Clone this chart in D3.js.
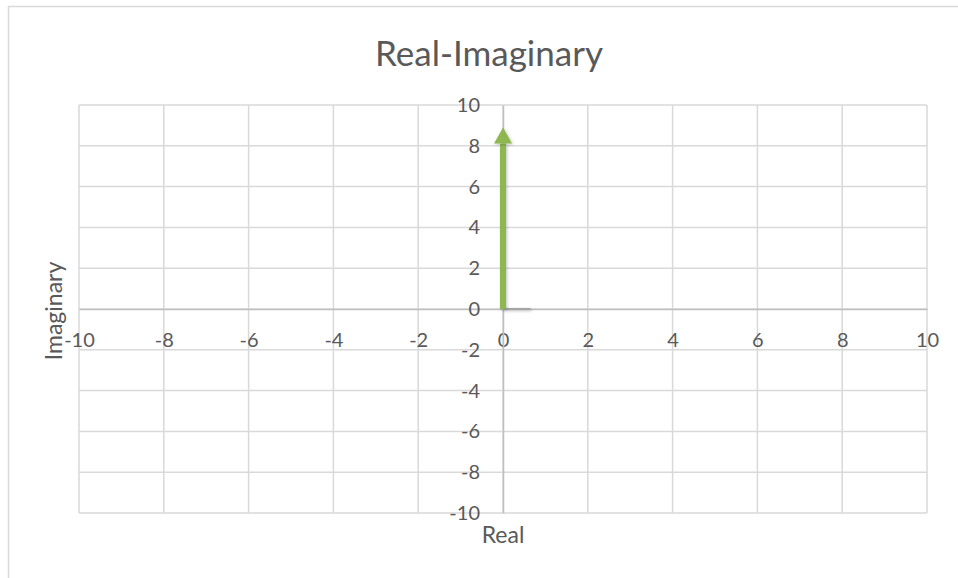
<!DOCTYPE html>
<html>
<head>
<meta charset="utf-8">
<script src="https://cdn.jsdelivr.net/npm/d3@7/dist/d3.min.js"></script>
<style>
  html, body { margin: 0; padding: 0; background: #fff; }
  svg { display: block; }
  text { font-family: Lato, "Open Sans", sans-serif; fill: #595959; }
</style>
</head>
<body>
<svg id="chart" width="958" height="578"></svg>
<script>
// Axis ranges and tick values
const xTicks = [-10, -8, -6, -4, -2, 0, 2, 4, 6, 8, 10];
const yTicks = [-10, -8, -6, -4, -2, 0, 2, 4, 6, 8, 10];
const xDomain = [-10, 10];
const yDomain = [-10, 10];

// Vector (real, imaginary) drawn as an arrow from the origin
const vectorStart = [0, 0];
const vectorEnd = [0, 8.9];

// Short real-part segment along the horizontal axis
const realStart = [0, 0];
const realEnd = [0.65, 0];

const chartTitle = "Real-Imaginary";
const xTitle = "Real";
const yTitle = "Imaginary";

const svg = d3.select("#chart");
const plot = { left: 79, right: 927, top: 105, bottom: 513 };
const fmt = d => String(d);

// Outer chart frame
svg.append("rect")
  .attr("x", 8.5).attr("y", 6.5)
  .attr("width", 970).attr("height", 590)
  .attr("fill", "#fff").attr("stroke", "#d9d9d9").attr("stroke-width", 1.5);

const x = d3.scaleLinear().domain(xDomain).range([plot.left, plot.right]);
const y = d3.scaleLinear().domain(yDomain).range([plot.bottom, plot.top]);

// Gridlines
const grid = svg.append("g");
grid.selectAll("line.vx").data(xTicks).join("line")
  .attr("x1", d => x(d)).attr("x2", d => x(d))
  .attr("y1", plot.top).attr("y2", plot.bottom)
  .attr("stroke", "#d9d9d9").attr("stroke-width", 1.5);
grid.selectAll("line.hy").data(yTicks).join("line")
  .attr("y1", d => y(d)).attr("y2", d => y(d))
  .attr("x1", plot.left).attr("x2", plot.right)
  .attr("stroke", "#d9d9d9").attr("stroke-width", 1.5);

// Axes through the origin
const xAxis = d3.axisBottom(x).tickValues(xTicks).tickSize(0).tickPadding(24).tickFormat(fmt);
const yAxis = d3.axisLeft(y).tickValues(yTicks).tickSize(0).tickPadding(23).tickFormat(fmt);

const gx = svg.append("g").attr("transform", `translate(0,${y(0)})`).call(xAxis);
gx.select(".domain").attr("stroke", "#bfbfbf").attr("stroke-width", 1.5);
gx.selectAll("text").style("font-size", "20px").attr("fill", "#595959");

const gy = svg.append("g").attr("transform", `translate(${x(0)},0)`).call(yAxis);
gy.select(".domain").attr("stroke", "#bfbfbf").attr("stroke-width", 1.5);
gy.selectAll("text").style("font-size", "20px").attr("fill", "#595959");

// Titles
svg.append("text")
  .attr("x", 489).attr("y", 66)
  .attr("text-anchor", "middle")
  .style("font-size", "35px")
  .text(chartTitle);

svg.append("text")
  .attr("x", x(0)).attr("y", 543)
  .attr("text-anchor", "middle")
  .style("font-size", "23px")
  .text(xTitle);

svg.append("text")
  .attr("transform", `translate(62,${(plot.top + plot.bottom) / 2 + 2}) rotate(-90)`)
  .attr("text-anchor", "middle")
  .style("font-size", "23px")
  .text(yTitle);

// Soft shadow used by the series lines
const defs = svg.append("defs");
const f = defs.append("filter").attr("id", "shadow")
  .attr("filterUnits", "userSpaceOnUse")
  .attr("x", 0).attr("y", 0).attr("width", 958).attr("height", 578);
f.append("feDropShadow").attr("dx", 1).attr("dy", 1).attr("stdDeviation", 1.5)
  .attr("flood-color", "#000").attr("flood-opacity", 0.25);

defs.append("marker")
  .attr("id", "arrowHead")
  .attr("viewBox", "0 0 10 10")
  .attr("refX", 9).attr("refY", 5)
  .attr("markerWidth", 3).attr("markerHeight", 3)
  .attr("markerUnits", "strokeWidth")
  .attr("orient", "auto")
  .append("path").attr("d", "M0,0 L10,5 L0,10 Z").attr("fill", "#8fb74f");

// Real-part segment
svg.append("line")
  .attr("x1", x(realStart[0])).attr("y1", y(realStart[1]))
  .attr("x2", x(realEnd[0])).attr("y2", y(realEnd[1]))
  .attr("stroke", "#a6a6a6").attr("stroke-width", 2)
  .attr("filter", "url(#shadow)");

// Vector arrow: shaft stops short so the head's tip lands on the end point
const headLen = 16;
svg.append("line")
  .attr("x1", x(vectorStart[0])).attr("y1", y(vectorStart[1]))
  .attr("x2", x(vectorEnd[0])).attr("y2", y(vectorEnd[1]) + headLen)
  .attr("stroke", "#8fb74f").attr("stroke-width", 6)
  .attr("filter", "url(#shadow)");
svg.append("path")
  .attr("d", `M${x(vectorEnd[0])},${y(vectorEnd[1])} L${x(vectorEnd[0]) + 9},${y(vectorEnd[1]) + headLen} L${x(vectorEnd[0]) - 9},${y(vectorEnd[1]) + headLen} Z`)
  .attr("fill", "#8fb74f")
  .attr("filter", "url(#shadow)");
</script>
</body>
</html>
